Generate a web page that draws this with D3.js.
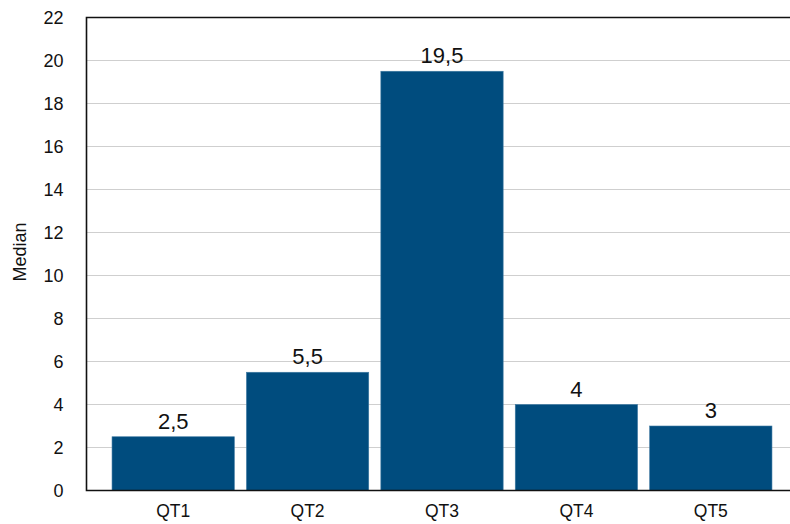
<!DOCTYPE html>
<html>
<head>
<meta charset="utf-8">
<script src="https://cdn.jsdelivr.net/npm/d3@7"></script>
<style>
  body { margin: 0; background: #fff; }
  text { font-family: "Liberation Sans", Arial, sans-serif; fill: #111; }
</style>
</head>
<body>
<svg id="chart"></svg>
<script>
// chart data
const categories = ['QT1', 'QT2', 'QT3', 'QT4', 'QT5'];
const medians = [2.5, 5.5, 19.5, 4, 3];
const valueLabels = ['2,5', '5,5', '19,5', '4', '3'];
const yTicks = [0, 2, 4, 6, 8, 10, 12, 14, 16, 18, 20, 22];

const width = 790;
const height = 524;

const svg = d3.select('#chart')
    .attr('width', width)
    .attr('height', height);

// plot box (right side runs past the window, as in the reference)
const plotLeft = 86.5, plotRight = 797.5, plotTop = 17.5, plotBottom = 490.5;

const x = d3.scaleBand()
    .domain(categories)
    .range([plotLeft, plotRight])
    .paddingInner(0.09)
    .paddingOuter(0.19);

const y = d3.scaleLinear()
    .domain([0, 22])
    .range([plotBottom, plotTop]);

// gridlines
svg.append('g')
    .selectAll('line')
    .data(yTicks.filter(d => d > 0 && d < 22))
    .enter().append('line')
    .attr('x1', plotLeft)
    .attr('x2', plotRight)
    .attr('y1', d => y(d))
    .attr('y2', d => y(d))
    .style('stroke', '#cfcfcf')
    .style('stroke-width', 1.2);

// bars
svg.append('g')
    .selectAll('rect')
    .data(medians)
    .enter().append('rect')
    .attr('x', (d, i) => x(categories[i]))
    .attr('y', d => y(d))
    .attr('width', x.bandwidth())
    .attr('height', d => y(0) - y(d))
    .style('fill', '#004c7e')
    .style('stroke', '#3f7aa3')
    .style('stroke-width', 0.6);

// frame
svg.append('path')
    .attr('d', `M${plotRight},${plotTop}H${plotLeft}V${plotBottom}H${plotRight}`)
    .style('fill', 'none')
    .style('stroke', '#111')
    .style('stroke-width', 1.6);

// value labels
svg.append('g')
    .selectAll('text')
    .data(medians)
    .enter().append('text')
    .attr('x', (d, i) => x(categories[i]) + x.bandwidth() / 2)
    .attr('y', d => y(d) - 8)
    .attr('text-anchor', 'middle')
    .style('font-size', '22px')
    .text((d, i) => valueLabels[i]);

// y tick labels
svg.append('g')
    .selectAll('text')
    .data(yTicks)
    .enter().append('text')
    .attr('x', 63.5)
    .attr('y', d => y(d))
    .attr('dy', '0.35em')
    .attr('text-anchor', 'end')
    .style('font-size', '18px')
    .text(d => d);

// x tick labels
svg.append('g')
    .selectAll('text')
    .data(categories)
    .enter().append('text')
    .attr('x', d => x(d) + x.bandwidth() / 2)
    .attr('y', 517)
    .attr('text-anchor', 'middle')
    .style('font-size', '17.5px')
    .text(d => d);

// axis title
svg.append('text')
    .attr('transform', 'translate(26,252) rotate(-90)')
    .attr('text-anchor', 'middle')
    .style('font-size', '18px')
    .text('Median');
</script>
</body>
</html>
